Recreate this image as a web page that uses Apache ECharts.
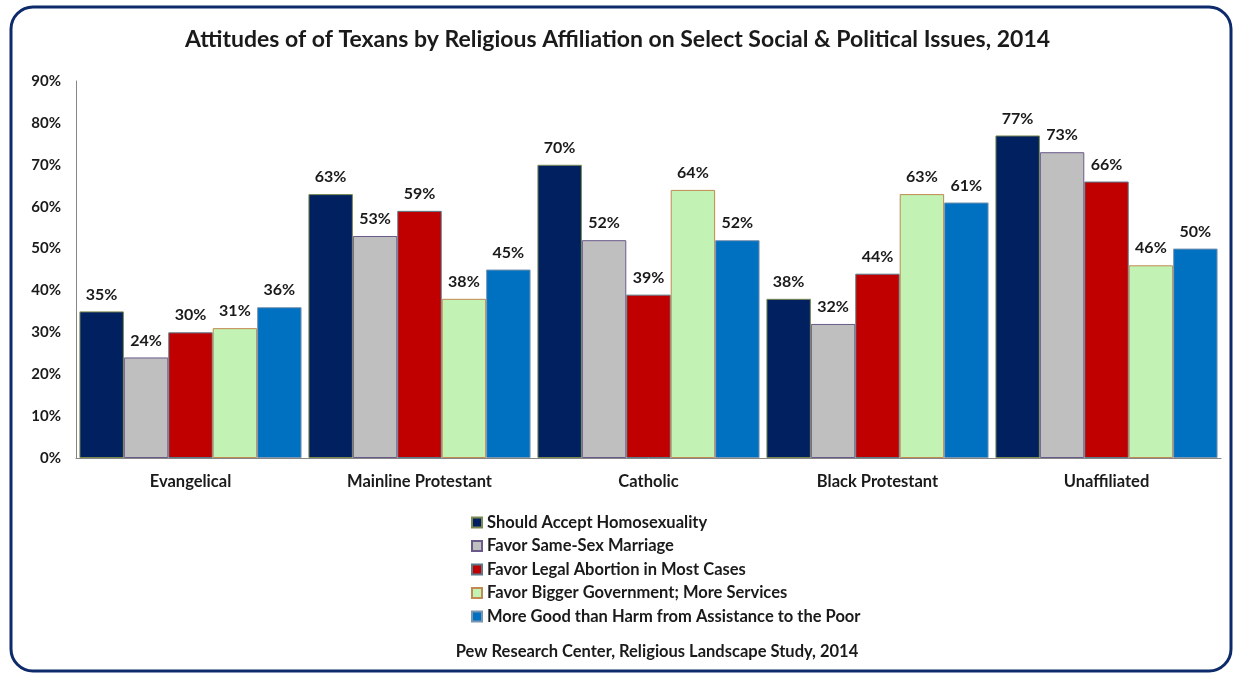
<!DOCTYPE html>
<html>
<head>
<meta charset="utf-8">
<script src="https://cdn.jsdelivr.net/npm/echarts@6/dist/echarts.min.js"></script>
<style>
html,body{margin:0;padding:0;background:#fff;}
#c{width:1235px;height:673px;}
</style>
</head>
<body>
<div id="c"></div>
<script>
const categories = ['Evangelical', 'Mainline Protestant', 'Catholic', 'Black Protestant', 'Unaffiliated'];
const seriesNames = [
  'Should Accept Homosexuality',
  'Favor Same-Sex Marriage',
  'Favor Legal Abortion in Most Cases',
  'Favor Bigger Government; More Services',
  'More Good than Harm from Assistance to the Poor'
];
const acceptHomosexuality = [35, 63, 70, 38, 77];
const sameSexMarriage = [24, 53, 52, 32, 73];
const legalAbortion = [30, 59, 39, 44, 66];
const biggerGovernment = [31, 38, 64, 63, 46];
const assistancePoor = [36, 45, 52, 61, 50];
const yTicks = [0, 10, 20, 30, 40, 50, 60, 70, 80, 90];

const values = [acceptHomosexuality, sameSexMarriage, legalAbortion, biggerGovernment, assistancePoor];
const colors = ['#002060', '#BFBFBF', '#C00000', '#C2F2B4', '#0070C0'];
const borders = ['#7a8a50', '#6a5a8a', '#5a7a8a', '#c08a50', '#7a95b0'];
const FONT = 'Lato';
const TXT = '#1a1a1a';

const chart = echarts.init(document.getElementById('c'), null, {renderer: 'canvas'});
chart.setOption({
  backgroundColor: '#fff',
  animation: false,
  title: {
    text: 'Attitudes of of Texans by Religious Affiliation on Select Social & Political Issues, 2014',
    left: 'center', top: 23,
    textStyle: {fontFamily: FONT, fontWeight: 'bold', fontSize: 23, color: TXT}
  },
  legend: {
    orient: 'vertical', left: 466, top: 509,
    icon: 'rect', itemWidth: 10, itemHeight: 10, itemGap: 6.5,
    textStyle: {fontFamily: FONT, fontWeight: 'bold', fontSize: 16.5, color: TXT},
    data: seriesNames
  },
  graphic: [
    {type: 'rect', shape: {x: 11, y: 7, width: 1220, height: 664, r: 22},
     style: {fill: 'none', stroke: '#0d2a6b', lineWidth: 3}, silent: true},
    {type: 'text', x: 657, y: 652,
     style: {text: 'Pew Research Center, Religious Landscape Study, 2014', fontFamily: FONT, fontWeight: 'bold', fontSize: 16.5, fill: TXT, align: 'center', verticalAlign: 'middle'}}
  ],
  grid: {left: 76, right: 14, top: 81, bottom: 215, containLabel: false},
  xAxis: {
    type: 'category', data: categories,
    axisLine: {lineStyle: {color: '#868686'}},
    axisTick: {show: false},
    axisLabel: {fontFamily: FONT, fontWeight: 'bold', fontSize: 16.5, color: TXT, margin: 15}
  },
  yAxis: {
    type: 'value', min: 0, max: 90, interval: 10,
    axisLine: {show: true, lineStyle: {color: '#868686'}},
    axisTick: {show: false},
    splitLine: {show: false},
    axisLabel: {fontFamily: FONT, fontWeight: 'bold', fontSize: 15, color: TXT, margin: 15,
      formatter: v => yTicks.includes(v) ? v + '%' : ''}
  },
  series: values.map((arr, i) => ({
    name: seriesNames[i], type: 'bar', data: arr,
    barGap: '0%', barCategoryGap: '3%',
    itemStyle: {color: colors[i], borderColor: borders[i], borderWidth: 1},
    label: {show: true, position: 'top', distance: 9, formatter: '{c}%',
      fontFamily: FONT, fontWeight: 'bold', fontSize: 16, color: TXT}
  }))
});
</script>
</body>
</html>
